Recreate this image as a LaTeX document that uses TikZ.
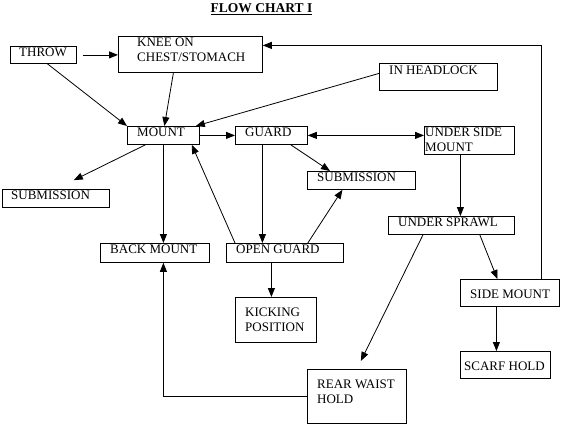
\documentclass[tikz,border=0pt]{standalone}
\usepackage{fontspec}
\setmainfont{Liberation Serif}
\usetikzlibrary{arrows.meta, positioning}
\tikzstyle{box} = [draw, line width=0.8bp, anchor=north west, inner sep=0pt]
\tikzstyle{lbl} = [anchor=north west, inner sep=0pt, align=left, font=\fontsize{13bp}{14.5bp}\selectfont]
\tikzstyle{arrow} = [line width=0.8bp, -{Triangle[length=9bp,width=7bp]}]
\tikzstyle{twoway} = [line width=0.8bp, {Triangle[length=9bp,width=7bp]}-{Triangle[length=9bp,width=7bp]}]

\begin{document}
\begin{tikzpicture}[x=1bp, y=-1bp]

   \useasboundingbox (0,0) rectangle (580,427);

   % title
   \node[anchor=north, inner sep=0pt, font=\fontsize{13.5bp}{15bp}\selectfont\bfseries] (title) at (261.5,3) {\underline{FLOW CHART I}};

   % boxes
   \node[box, minimum width=66bp, minimum height=17bp] (throw) at (10,46) {};
   \node[box, minimum width=144bp, minimum height=36bp] (knee) at (118,36) {};
   \node[box, minimum width=72bp, minimum height=18bp] (mount) at (127,126) {};
   \node[box, minimum width=72bp, minimum height=18bp] (guard) at (235,126) {};
   \node[box, minimum width=107bp, minimum height=18bp] (subl) at (2,189) {};
   \node[box, minimum width=118bp, minimum height=27bp] (headlock) at (379,63) {};
   \node[box, minimum width=90bp, minimum height=28bp] (usm) at (424,126) {};
   \node[box, minimum width=108bp, minimum height=18bp] (subm) at (307,171) {};
   \node[box, minimum width=109bp, minimum height=19bp] (back) at (100,243) {};
   \node[box, minimum width=117bp, minimum height=19bp] (open) at (226,243) {};
   \node[box, minimum width=81bp, minimum height=45bp] (kick) at (235,297) {};
   \node[box, minimum width=126bp, minimum height=18bp] (sprawl) at (388,216) {};
   \node[box, minimum width=99bp, minimum height=27bp] (side) at (460,279) {};
   \node[box, minimum width=90bp, minimum height=27bp] (scarf) at (460,351) {};
   \node[box, minimum width=99bp, minimum height=54bp] (rear) at (307,369) {};

   % texts
   \node[lbl] (throw-t) at (19,48) {THROW};
   \node[lbl] (knee-t) at (137,38) {KNEE ON\\CHEST/STOMACH};
   \node[lbl] (mount-t) at (137,128) {MOUNT};
   \node[lbl] (guard-t) at (245,128) {GUARD};
   \node[lbl] (subl-t) at (11,191) {SUBMISSION};
   \node[lbl] (headlock-t) at (389,66) {IN HEADLOCK};
   \node[lbl] (usm-t) at (425,128) {UNDER SIDE\\MOUNT};
   \node[lbl] (subm-t) at (317,173) {SUBMISSION};
   \node[lbl] (back-t) at (110,245) {BACK MOUNT};
   \node[lbl] (open-t) at (236,245) {OPEN GUARD};
   \node[lbl] (kick-t) at (245,308) {KICKING\\POSITION};
   \node[lbl] (sprawl-t) at (398,218) {UNDER SPRAWL};
   \node[lbl] (side-t) at (470,290) {SIDE MOUNT};
   \node[lbl] (scarf-t) at (464,362) {SCARF HOLD};
   \node[lbl] (rear-t) at (317,380) {REAR WAIST\\HOLD};

   % connectors
   \draw[arrow, shorten <=6bp] (throw.east) -- (knee.west |- throw.east);
   \draw[arrow] ([xshift=4bp]throw.south) -- (mount.north west);
   \draw[arrow] ([xshift=-17bp]knee.south) -- ([xshift=1bp]mount.north);
   \draw[arrow] ([yshift=3.5bp]headlock.west) -- ([xshift=-4bp]mount.north east);
   \draw[arrow] (mount.east) -- (guard.west);
   \draw[arrow, shorten >=20bp] ([xshift=-18bp]mount.south) -- (subl.north);
   \draw[arrow] (mount.south) -- (mount.south |- back.north);
   \draw[arrow] ([xshift=9bp]open.north west) -- ([xshift=-8bp]mount.south east);
   \draw[arrow] ([xshift=-9bp]guard.south) -- ([xshift=-9bp]guard.south |- open.north);
   \draw[arrow] ([xshift=-17bp]guard.south east) -- ([xshift=23bp]subm.north west);
   \draw[arrow] ([xshift=-36bp]open.north east) -- ([xshift=-19bp]subm.south);
   \draw[arrow] ([xshift=-13.5bp]open.south) -- ([xshift=-13.5bp]open.south |- kick.north);
   \draw[twoway] (guard.east) -- (usm.west |- guard.east);
   \draw[arrow] ([xshift=-9bp]usm.south) -- ([xshift=-9bp]usm.south |- sprawl.north);
   \draw[arrow] ([xshift=-35bp]sprawl.south east) -- ([xshift=-12.5bp]side.north);
   \draw[arrow, shorten >=9bp] ([xshift=35bp]sprawl.south west) -- (rear.north);
   \draw[arrow] ([xshift=-13.5bp]side.south) -- ([xshift=-13.5bp]side.south |- scarf.north);
   \draw[arrow] ([xshift=-18bp]side.north east) |- ([yshift=9bp]knee.east);
   \draw[arrow] (rear.west) -| ([xshift=8.5bp]back.south);

\end{tikzpicture}
\end{document}
